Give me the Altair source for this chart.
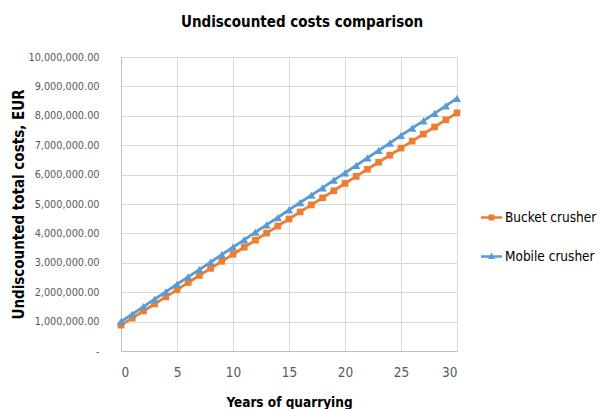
import altair as alt
import pandas as pd

# Years of quarrying and cumulative undiscounted costs (EUR)
years = list(range(0, 31))
bucket_costs = [
    880000, 1120000, 1360000, 1600000, 1840000, 2080000, 2330000, 2570000,
    2810000, 3050000, 3290000, 3530000, 3770000, 4010000, 4250000, 4490000,
    4730000, 4970000, 5210000, 5450000, 5700000, 5940000, 6180000, 6420000,
    6660000, 6900000, 7140000, 7380000, 7620000, 7860000, 8100000,
]
mobile_costs = [
    1000000, 1250000, 1510000, 1760000, 2010000, 2270000, 2520000, 2770000,
    3020000, 3280000, 3530000, 3780000, 4040000, 4290000, 4540000, 4800000,
    5050000, 5300000, 5550000, 5810000, 6060000, 6310000, 6570000, 6820000,
    7070000, 7330000, 7580000, 7830000, 8080000, 8340000, 8590000,
]
series_names = ["Bucket crusher", "Mobile crusher"]
series_colors = ["#ED7D31", "#5B9BD5"]
x_ticks = [0, 5, 10, 15, 20, 25, 30]
y_ticks = [0, 1000000, 2000000, 3000000, 4000000, 5000000,
           6000000, 7000000, 8000000, 9000000, 10000000]

df = pd.concat([
    pd.DataFrame({"year": years, "cost": bucket_costs, "series": series_names[0]}),
    pd.DataFrame({"year": years, "cost": mobile_costs, "series": series_names[1]}),
])

FONT = "DejaVu Sans Condensed, Roboto, sans-serif"
GREY = "#595959"

x_enc = alt.X(
    "year:Q",
    scale=alt.Scale(domain=[0, 30], nice=False),
    axis=alt.Axis(
        values=x_ticks, title="Years of quarrying",
        titleFont=FONT, titleFontSize=13.5, titleFontWeight="bold", titleColor="#000000",
        titleY=51, titleBaseline="middle",
        labelFont=FONT, labelFontSize=13.5, labelColor=GREY, labelPadding=14,
        labelOverlap=False, ticks=False, domainColor="#BFBFBF", gridColor="#D9D9D9",
    ),
)
y_enc = alt.Y(
    "cost:Q",
    scale=alt.Scale(domain=[0, 10000000], nice=False),
    axis=alt.Axis(
        values=y_ticks,
        labelExpr="datum.value == 0 ? '-' : format(datum.value, ',.2f')",
        title="Undiscounted total costs, EUR",
        titleFont=FONT, titleFontSize=15, titleFontWeight="bold", titleColor="#000000",
        titleX=-103, titleY=147, titleAngle=-90, titleAlign="center", titleBaseline="middle",
        labelFont=FONT, labelFontSize=10.8, labelColor=GREY, labelPadding=22,
        labelOverlap=False, ticks=False, domainColor="#BFBFBF", gridColor="#D9D9D9",
    ),
)
color_scale = alt.Scale(domain=series_names, range=series_colors)

base = alt.Chart(df)

lines = base.mark_line(strokeWidth=2.8).encode(
    x=x_enc, y=y_enc,
    color=alt.Color("series:N", scale=color_scale, legend=None),
)

bucket_pts = base.transform_filter(alt.datum.series == series_names[0]).mark_point(
    filled=True, opacity=1, shape="square", size=45
).encode(x=x_enc, y=y_enc, color=alt.Color("series:N", scale=color_scale, legend=None))

mobile_pts = base.transform_filter(alt.datum.series == series_names[1]).mark_point(
    filled=True, opacity=1, shape="triangle-up", size=70
).encode(x=x_enc, y=y_enc, color=alt.Color("series:N", scale=color_scale, legend=None))

# Legend symbols: a short line segment with the series marker on it
sq_path = "M-1,-0.12H1V0.12H-1Z M-0.28,-0.28H0.28V0.28H-0.28Z"
tri_path = "M-1,-0.12H1V0.12H-1Z M0,-0.38L0.33,0.24H-0.33Z"

# Layer that only carries the legend (no rows survive the filter)
legend_layer = base.transform_filter("datum.year < 0").mark_point(filled=True, opacity=1).encode(
    x=x_enc, y=y_enc,
    color=alt.Color("series:N", scale=color_scale, legend=alt.Legend(
        title=None, orient="none", legendX=360, legendY=150,
        labelFont=FONT, labelFontSize=13.5, labelColor="#000000",
        symbolSize=440, symbolOpacity=1, symbolStrokeWidth=0, rowPadding=22,
        labelOffset=3,
    )),
    shape=alt.Shape("series:N", scale=alt.Scale(domain=series_names, range=[sq_path, tri_path])),
)

chart = alt.layer(lines, bucket_pts, mobile_pts, legend_layer).resolve_legend(
    color="independent", shape="independent"
).properties(
    width=336, height=294,
    title=alt.TitleParams(
        "Undiscounted costs comparison", font=FONT, fontSize=15, fontWeight="bold",
        color="#000000", anchor="middle", dx=13, offset=21,
    ),
    autosize=alt.AutoSizeParams(type="none"),
    padding={"left": 121, "top": 57, "right": 140, "bottom": 58},
).configure_view(stroke=None).configure(background="#FFFFFF")

chart.save("out.html", embed_options={"renderer": "svg", "actions": False})
